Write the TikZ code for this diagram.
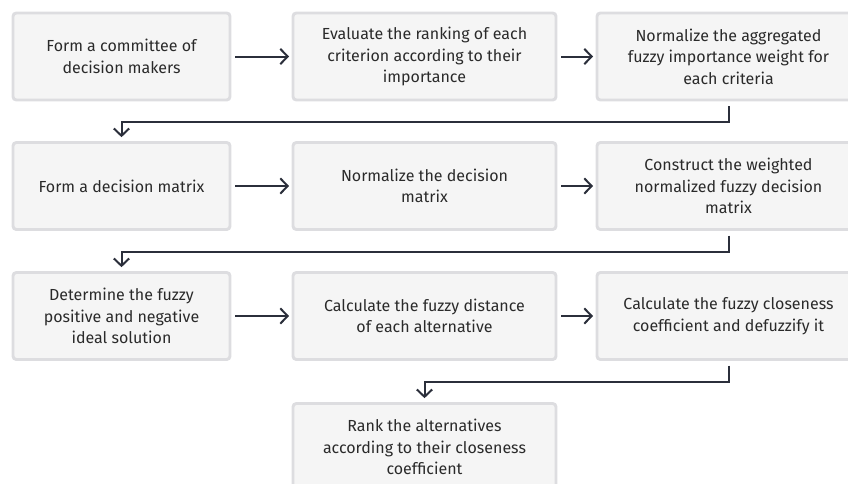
\documentclass[tikz,border=0pt]{standalone}
\usepackage{fontspec}
\setmainfont{Fira Sans}
\usetikzlibrary{arrows.meta}
\definecolor{boxfill}{HTML}{F5F5F5}
\definecolor{boxline}{HTML}{DDDDE0}
\definecolor{ink}{HTML}{2B2F3B}
\definecolor{txt}{HTML}{2A2A2A}

\begin{document}
\begin{tikzpicture}[x=0.75pt,y=-0.75pt,
  stepbox/.style={draw=boxline, fill=boxfill, line width=2.2pt,
    rounded corners=2.5pt, text=txt, align=center,
    font=\fontsize{12}{16.1}\selectfont,
    minimum height=65.25pt, inner sep=0pt, outer sep=0pt},
  narrow/.style={stepbox, minimum width=162.75pt},
  wide/.style={stepbox, minimum width=197.25pt},
  flow/.style={draw=ink, line width=1.5pt,
    -{Straight Barb[length=5.5pt,width=11.5pt,line width=1.5pt]}}]

\useasboundingbox (0,0) rectangle (848,483);
\clip (0,0) rectangle (848,483);

% row 1
\node[narrow] (b1) at (121.5,56.5) {Form a committee of\\decision makers};
\node[wide]   (b2) at (424.5,56.5) {Evaluate the ranking of each\\criterion according to their\\importance};
\node[wide]   (b3) at (728.5,56.5) {Normalize the aggregated\\fuzzy importance weight for\\each criteria};
% row 2
\node[narrow] (b4) at (121.5,186) {Form a decision matrix};
\node[wide]   (b5) at (424.5,186) {Normalize the decision\\matrix};
\node[wide]   (b6) at (728.5,186) {Construct the weighted\\normalized fuzzy decision\\matrix};
% row 3
\node[narrow] (b7) at (121.5,316) {Determine the fuzzy\\positive and negative\\ideal solution};
\node[wide]   (b8) at (424.5,316) {Calculate the fuzzy distance\\of each alternative};
\node[wide]   (b9) at (728.5,316) {Calculate the fuzzy closeness\\coefficient and defuzzify it};
% row 4
\node[wide]   (b10) at (424.5,447) {Rank the alternatives\\according to their closeness\\coefficient};

% horizontal steps
\foreach \a/\b in {b1/b2, b2/b3, b4/b5, b5/b6, b7/b8, b8/b9}
  \draw[flow, shorten <=4pt, shorten >=3pt] (\a.east) -- (\b.west);

% row changes
\draw[flow] ([yshift=-4.5pt]b3.south) -- ++(0,16) -| ([yshift=4pt]b4.north);
\draw[flow] ([yshift=-4.5pt]b6.south) -- ++(0,16) -| ([yshift=4pt]b7.north);
\draw[flow] ([yshift=-4.5pt]b9.south) -- ++(0,16) -| ([yshift=4pt]b10.north);
\end{tikzpicture}
\end{document}
